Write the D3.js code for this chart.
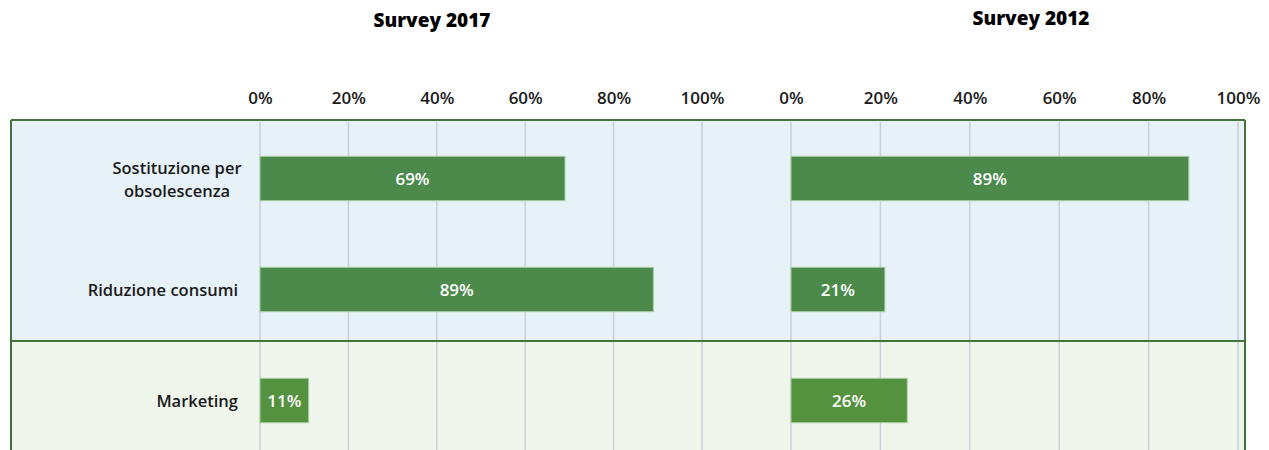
<!DOCTYPE html>
<html>
<head>
<meta charset="utf-8">
<script src="https://cdn.jsdelivr.net/npm/d3@7"></script>
<style>
  html, body { margin: 0; padding: 0; background: #ffffff; }
  svg { display: block; font-family: "Open Sans", Lato, sans-serif; }
</style>
</head>
<body>
<svg id="chart" width="1269" height="450"></svg>
<script>
// ---- data ----
const categories = [["Sostituzione per", "obsolescenza"], ["Riduzione consumi"], ["Marketing"]];
const groups = ["energia", "energia", "marketing"];
const surveyTitles = ["Survey 2017", "Survey 2012"];
const values2017 = [69, 89, 11];
const values2012 = [89, 21, 26];
const tickValues = [0, 20, 40, 60, 80, 100];

// ---- layout ----
const svg = d3.select("#chart");
const frameLeft = 11, frameRight = 1245, frameTop = 120, frameBottom = 470;
const y = d3.scaleBand().domain(d3.range(categories.length)).range([123, 456]).paddingInner(0.6).paddingOuter(0.3);

const panels = [
  { title: surveyTitles[0], values: values2017, range: [260, 702], titleX: 432, titleY: 27 },
  { title: surveyTitles[1], values: values2012, range: [791, 1238], titleX: 1031, titleY: 25 }
];

const bandFill = { energia: "#e7f1f8", marketing: "#f0f5ec" };
const barFill = { energia: "#4b8a4b", marketing: "#55923f" };
const borderColor = "#42733a";

// background bands
const sepY = 341;
svg.append("rect").attr("x", frameLeft).attr("y", frameTop).attr("width", frameRight - frameLeft).attr("height", sepY - frameTop).attr("fill", bandFill.energia);
svg.append("rect").attr("x", frameLeft).attr("y", sepY).attr("width", frameRight - frameLeft).attr("height", frameBottom - sepY).attr("fill", bandFill.marketing);

panels.forEach(p => {
  const x = d3.scaleLinear().domain([0, 100]).range(p.range);

  // grid lines
  svg.append("g").selectAll("line").data(tickValues).join("line")
    .attr("x1", d => x(d)).attr("x2", d => x(d))
    .attr("y1", frameTop + 2).attr("y2", frameBottom)
    .attr("stroke", "#c9d1d8").attr("stroke-width", 1.5);

  // axis on top
  const axis = d3.axisTop(x).tickValues(tickValues).tickFormat(d => d + "%").tickSize(0).tickPadding(0);
  const g = svg.append("g").attr("transform", "translate(0,104)").call(axis);
  g.select(".domain").remove();
  g.selectAll("text").attr("font-size", 17).attr("font-weight", 600).attr("fill", "#1a1a1a").attr("font-family", "'Open Sans', sans-serif");

  // title
  svg.append("text").attr("x", p.titleX).attr("y", p.titleY).attr("text-anchor", "middle")
    .attr("font-size", 19).attr("font-weight", 800).attr("fill", "#000").text(p.title);

  // bars
  svg.append("g").selectAll("rect").data(p.values).join("rect")
    .attr("x", x(0)).attr("y", (d, i) => y(i))
    .attr("width", d => x(d) - x(0)).attr("height", y.bandwidth())
    .attr("fill", (d, i) => barFill[groups[i]])
    .attr("stroke", "#a9cfa0").attr("stroke-width", 1);

  // value labels
  svg.append("g").selectAll("text").data(p.values).join("text")
    .attr("x", d => (x(0) + x(d)) / 2).attr("y", (d, i) => y(i) + y.bandwidth() / 2)
    .attr("dy", "0.36em").attr("text-anchor", "middle")
    .attr("font-size", 17).attr("font-weight", 600).attr("fill", "#ffffff")
    .text(d => d + "%");
});

// category labels
categories.forEach((lines, i) => {
  const cy = y(i) + y.bandwidth() / 2;
  const multi = lines.length > 1;
  const t = svg.append("text").attr("text-anchor", multi ? "middle" : "end")
    .attr("font-size", 16.5).attr("font-weight", 600).attr("fill", "#1a1a1a");
  const lh = 23;
  lines.forEach((ln, j) => {
    t.append("tspan").attr("x", multi ? 177 : 238)
      .attr("y", cy + 1 + (j - (lines.length - 1) / 2) * lh).attr("dy", "0.36em").text(ln);
  });
});

// frame lines
svg.append("line").attr("x1", frameLeft).attr("x2", frameRight).attr("y1", frameTop).attr("y2", frameTop).attr("stroke", borderColor).attr("stroke-width", 2);
svg.append("line").attr("x1", frameLeft).attr("x2", frameRight).attr("y1", sepY).attr("y2", sepY).attr("stroke", borderColor).attr("stroke-width", 2);
svg.append("line").attr("x1", frameLeft).attr("x2", frameLeft).attr("y1", frameTop).attr("y2", frameBottom).attr("stroke", borderColor).attr("stroke-width", 2);
svg.append("line").attr("x1", frameRight).attr("x2", frameRight).attr("y1", frameTop).attr("y2", frameBottom).attr("stroke", borderColor).attr("stroke-width", 2);
</script>
</body>
</html>
